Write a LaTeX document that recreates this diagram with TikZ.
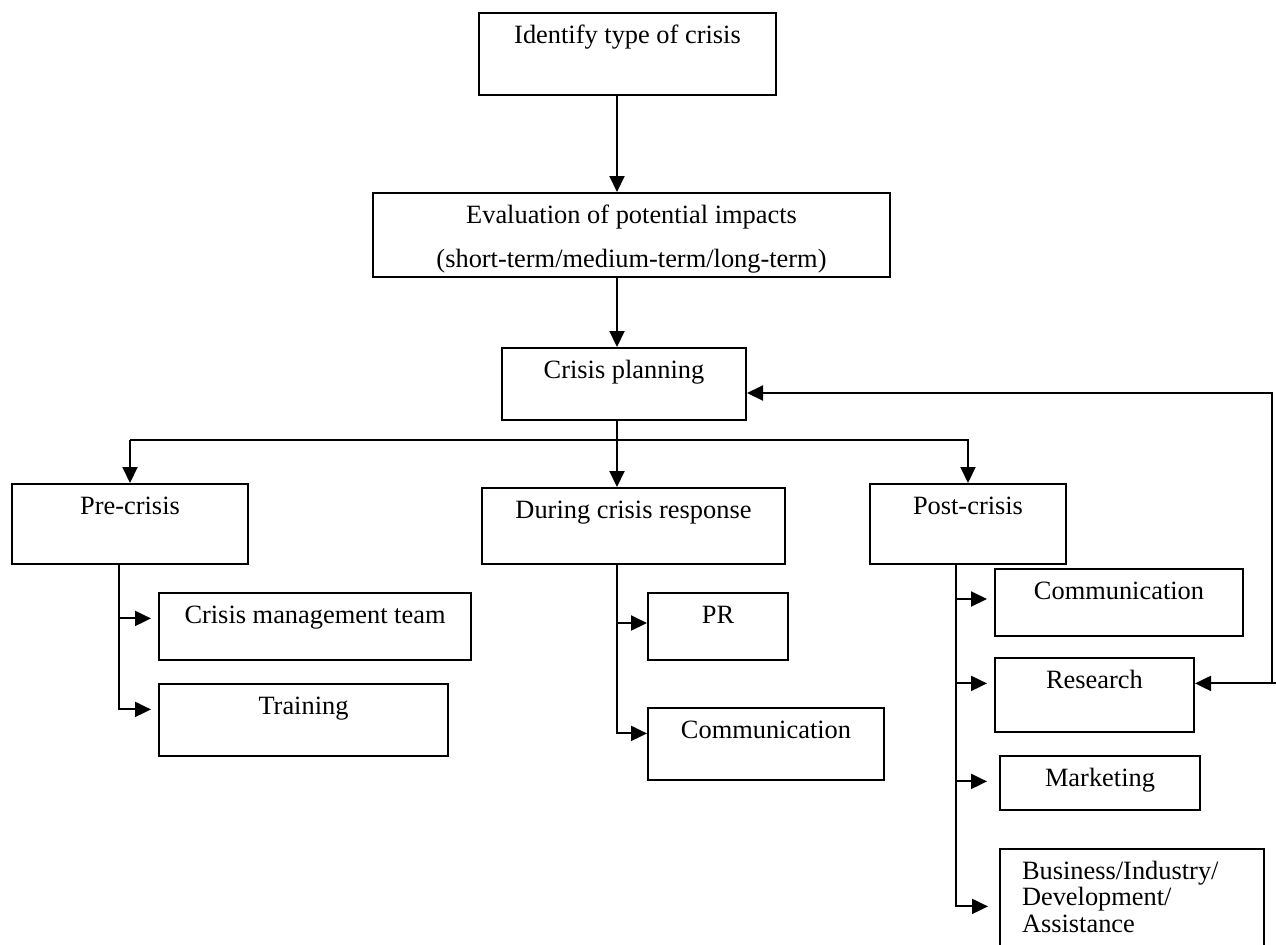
\documentclass[tikz,border=0pt]{standalone}
\usepackage{fontspec}
\setmainfont{Liberation Serif}
\usetikzlibrary{arrows.meta}
\begin{document}
\begin{tikzpicture}
[x=0.5pt,y=-0.5pt,
  font=\fontsize{13.2}{15.8}\selectfont,
  boxdecorate/.style 2 args={draw,line width=1pt,anchor=north west,inner sep=0pt,
    minimum width=#1,text height=15pt,text depth=#2},
  linedecorate/.style={line width=1pt,-{Triangle[length=8pt,width=7.5pt]}}]
\useasboundingbox (0,0) rectangle (1276,944);
%% boxes
\node (ident) at (478,12) [boxdecorate={148.5pt}{26pt}] {Identify type of crisis};
\node (eval) at (372,192) [boxdecorate={258.5pt}{27pt},font=\fontsize{13.2}{22}\selectfont]
  {\begin{tabular}[t]{@{}c@{}}Evaluation of potential impacts\\(short-term/medium-term/long-term)\end{tabular}};
\node (plan) at (501,347) [boxdecorate={122pt}{21pt}] {Crisis planning};
\node (pre) at (11,483) [boxdecorate={118pt}{25pt}] {Pre-crisis};
\node (during) at (481,487) [boxdecorate={151.5pt}{23pt}] {During crisis response};
\node (post) at (869,483) [boxdecorate={98pt}{25pt}] {Post-crisis};
\node (cmt) at (158,592) [boxdecorate={156pt}{18.5pt}] {Crisis management team};
\node (train) at (158,683) [boxdecorate={144.5pt}{21pt}] {Training};
\node (pr) at (647,592) [boxdecorate={70pt}{18.5pt}] {PR};
\node (commd) at (647,707) [boxdecorate={118pt}{21pt}] {Communication};
\node (commp) at (994,568) [boxdecorate={124pt}{18.5pt}] {Communication};
\node (research) at (994,657) [boxdecorate={99.5pt}{22pt}] {Research};
\node (mkt) at (999,755) [boxdecorate={100pt}{12pt}] {Marketing};
\node (biz) at (999,848) [boxdecorate={132pt}{100pt},inner xsep=11pt,font=\fontsize{13.2}{13.3}\selectfont]
  {\makebox[110pt][l]{\begin{tabular}[t]{@{}l@{}}Business/Industry/\\Development/\\Assistance\end{tabular}}};
%% helper positions
\coordinate (spine) at (617,0);
\coordinate (bar) at (0,440);
\coordinate (prestem) at (119,0);
\coordinate (poststem) at (956,0);
\coordinate (loop) at (1272,0);
\coordinate (edge) at (1276,0);
%% main chain
\draw[linedecorate] (ident.south -| spine) -- (eval.north -| spine);
\draw[linedecorate] (eval.south -| spine) -- (plan.north -| spine);
\draw[linedecorate] (plan.south -| spine) -- (during.north -| spine);
\draw[linedecorate] (bar -| pre.north) -- (pre.north);
\draw[linedecorate] (bar -| pre.north) -| (post.north);
%% branches
\foreach \endnode in {cmt, train} {
  \draw[linedecorate,shorten >=3.5pt] (pre.south -| prestem) |- (\endnode.mid west);
}
\draw[linedecorate] (during.south -| spine) |- (pr.base west);
\draw[linedecorate] (during.south -| spine) |- (commd.mid west);
\draw[linedecorate,shorten >=3.5pt] (post.south -| poststem) |- (commp.base west);
\draw[linedecorate,shorten >=3.5pt] (post.south -| poststem) |- (research.mid west);
\draw[linedecorate,shorten >=6pt] (post.south -| poststem) |- (mkt.mid west);
\draw[linedecorate,shorten >=5.5pt] (post.south -| poststem) |- ([yshift=-16pt]biz.mid west);
%% feedback
\draw[linedecorate] (edge |- research.mid east) -- (research.mid east);
\draw[linedecorate] (loop |- research.mid east) |- ([yshift=-4.5pt]plan.east);
\end{tikzpicture}
\end{document}
